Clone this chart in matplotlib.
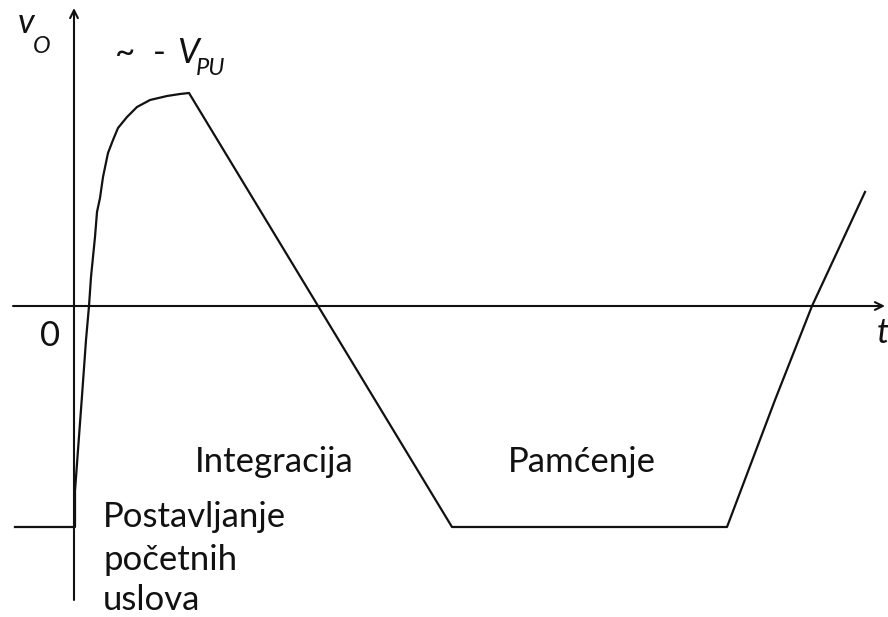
import matplotlib
matplotlib.use("Agg")
import matplotlib.pyplot as plt

# waveform of v_O over time (units: px offset from origin, v up)
t_wave = [-59, 1, 1, 4, 8, 12, 15, 17, 19, 21, 23, 26, 29, 34, 39, 44, 53, 63, 76, 93, 106, 115,
          378, 653, 701, 738, 765, 791]
v_wave = [-221, -221, -185, -144, -90, -34, 0, 29, 49, 69, 94, 108, 129, 153, 166, 178, 189, 199,
          206, 210, 212, 213,
          -221, -221, -94, 0, 58, 114]

# axis extents
t_axis = (-61, 811)
v_axis = (-294, 298)

labels = ["Integracija", "Pamćenje"]
label_pos = [(121, -166), (434, -166)]
init_lines = ["Postavljanje", "početnih", "uslova"]
init_base = [-221, -264, -304]

FONT = "Lato"
INK = "#111111"

fig = plt.figure(figsize=(8.88, 6.17), dpi=100)
ax = fig.add_axes([0, 0, 1, 1])
ax.set_xlim(-74, 814)
ax.set_ylim(-311, 306)
ax.axis("off")

# axes with arrows
arrow = dict(arrowstyle="->", lw=1.5, color=INK, mutation_scale=14, shrinkA=0, shrinkB=0)
ax.annotate("", xy=(t_axis[1], 0), xytext=(t_axis[0], 0), arrowprops=arrow)
ax.annotate("", xy=(0, v_axis[1]), xytext=(0, v_axis[0]), arrowprops=arrow)

# the signal
ax.plot(t_wave, v_wave, color=INK, lw=1.6, solid_joinstyle="round")

fs = 25
for txt, (x, y) in zip(labels, label_pos):
    ax.text(x, y, txt, family=FONT, fontsize=fs, color=INK, ha="left", va="baseline")
for txt, y in zip(init_lines, init_base):
    ax.text(29, y, txt, family=FONT, fontsize=fs, color=INK, ha="left", va="baseline")

# axis labels
ax.text(-34, -40, "0", family=FONT, fontsize=fs, color=INK, ha="left", va="baseline")
ax.text(803, -37, "t", family=FONT, fontsize=fs, style="italic", color=INK,
        ha="left", va="baseline")
ax.text(-56, 273, "v", family=FONT, fontsize=fs, style="italic", color=INK,
        ha="left", va="baseline")
ax.text(-41, 253, "O", family=FONT, fontsize=17, style="italic", color=INK,
        ha="left", va="baseline")

# saturation level label
ax.text(41, 243, "~  -", family=FONT, fontsize=fs, color=INK, ha="left", va="baseline")
ax.text(103, 243, "V", family=FONT, fontsize=fs, style="italic", color=INK,
        ha="left", va="baseline")
ax.text(122, 231, "PU", family=FONT, fontsize=17, style="italic", color=INK,
        ha="left", va="baseline")

fig.savefig("out.png", dpi=100)
